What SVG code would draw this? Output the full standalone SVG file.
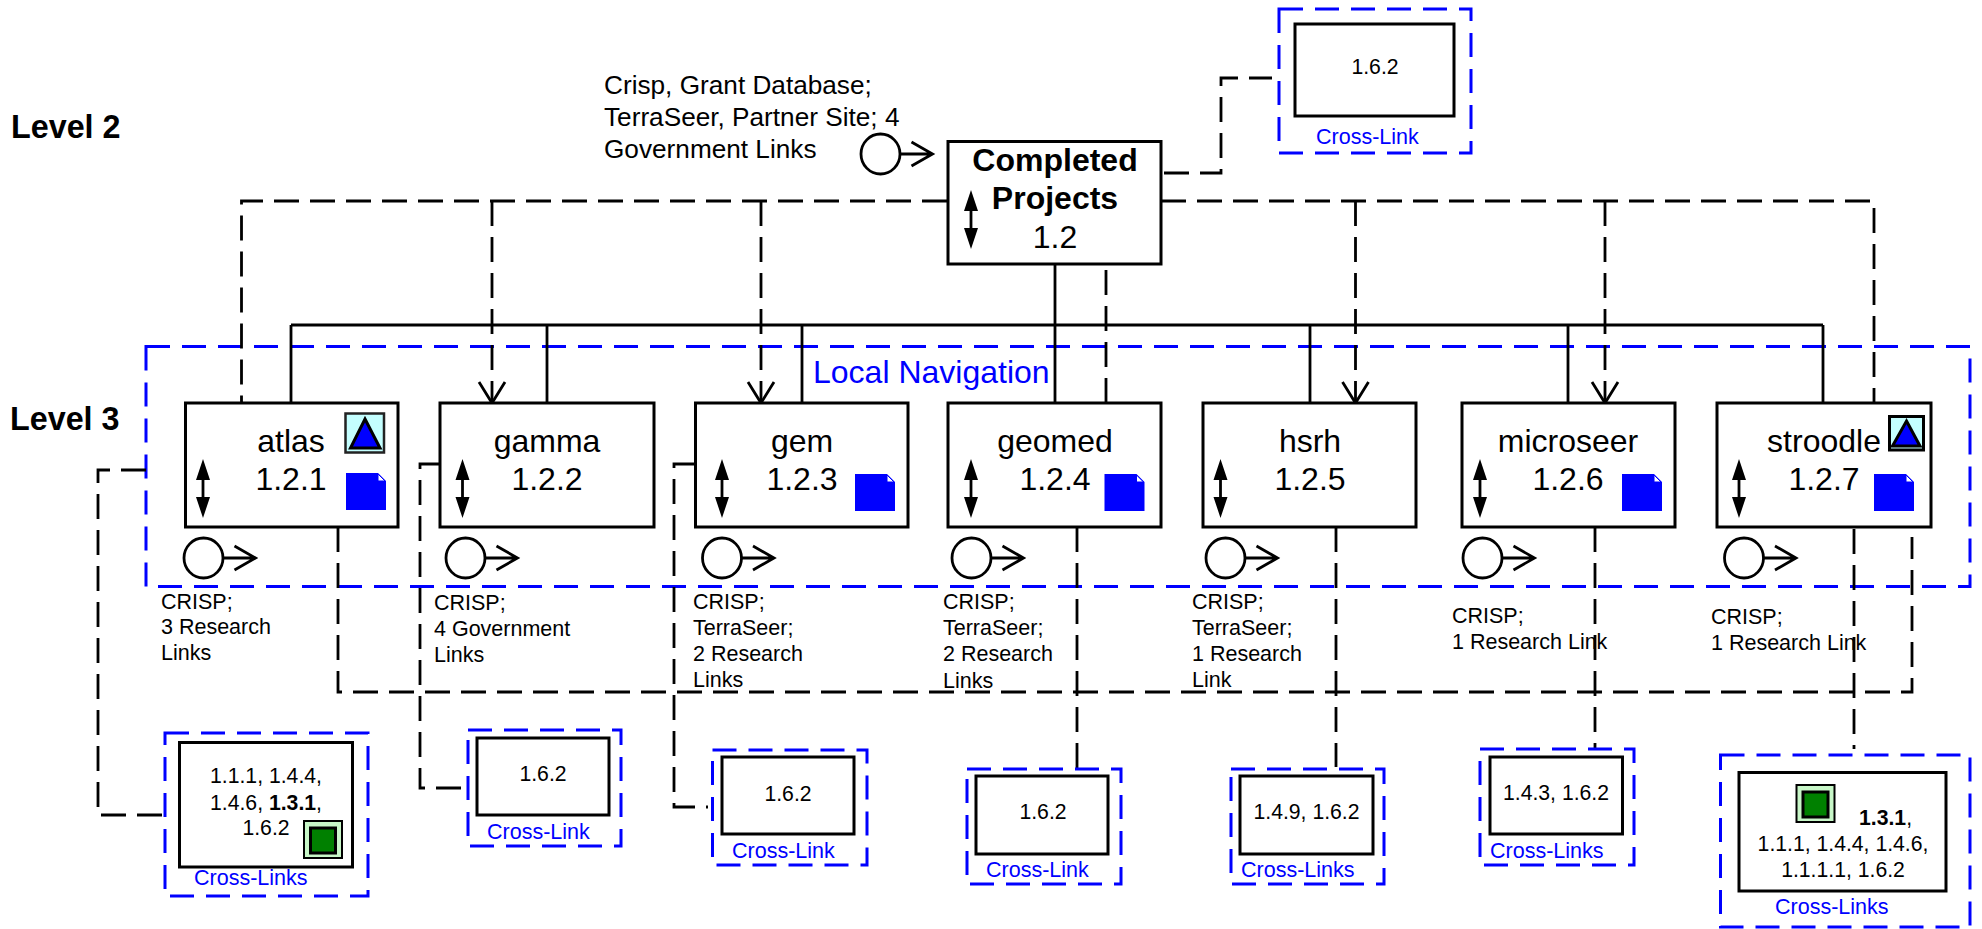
<svg xmlns="http://www.w3.org/2000/svg" xmlns:xlink="http://www.w3.org/1999/xlink" width="1982" height="929" viewBox="0 0 1982 929">
<style>
text{font-family:"Liberation Sans",Arial,sans-serif;fill:#000}
.box{fill:#fff;stroke:#000;stroke-width:3}
.blue{fill:none;stroke:#00f;stroke-width:3;stroke-dasharray:24 12}
.dash{fill:none;stroke:#000;stroke-width:2.8;stroke-dasharray:25 11}
.solid{fill:none;stroke:#000;stroke-width:2.8}
.arrowdash{marker-end:url(#open)}
.name{font-size:32px;text-anchor:middle}
.b{font-weight:bold}
.lvl{font-size:32.3px;font-weight:bold}
.note{font-size:21.5px}
.top{font-size:26.2px}
.cl{font-size:21.5px;fill:#00f}
.ref{font-size:21.2px;text-anchor:middle}
.line{fill:none;stroke:#000;stroke-width:2.8}
</style>
<defs>
<marker id="open" markerUnits="userSpaceOnUse" markerWidth="32" markerHeight="28" refX="15" refY="22" orient="0" overflow="visible">
<path d="M2 1L15 22L28 1" fill="none" stroke="#000" stroke-width="2.8"/>
</marker>
<g id="updown">
<path d="M0 0L7 21H-7Z M0 59L7 38H-7Z" fill="#000"/>
<path d="M0 10V50" class="line"/>
</g>
<g id="go">
<ellipse cx="0" cy="0" rx="19.5" ry="20" fill="#fff" stroke="#000" stroke-width="2.8"/>
<path d="M19.5 0H52M31 -12L52 0L31 12" class="line"/>
</g>
<g id="doc">
<path d="M0 0H32L40 8V37H0Z" fill="#00f"/>
<path d="M32 1L39 8H32Z" fill="#fff" stroke="#00f" stroke-width="1"/>
</g>
<g id="green">
<rect x="0" y="0" width="38" height="37" fill="#c8f7c8" stroke="#000" stroke-width="2"/>
<rect x="6.5" y="7" width="25" height="25" fill="#008000" stroke="#000" stroke-width="3"/>
</g>
</defs>

<g id="labels">
<text class="lvl" x="11" y="138">Level 2</text>
<text class="lvl" x="10" y="430">Level 3</text>
<text class="top" x="604" y="94">Crisp, Grant Database;</text>
<text class="top" x="604" y="126">TerraSeer, Partner Site; 4</text>
<text class="top" x="604" y="158">Government Links</text>
</g>

<g id="local-navigation">
<rect class="blue" x="146" y="346.5" width="1824" height="240"/>
<text x="813" y="383" font-size="32" style="fill:#00f">Local Navigation</text>
</g>

<g id="connectors">
<path class="solid" d="M1055 264V402M291 325H1823M291 325V402M547 325V402M802 325V402M1310 325V402M1568 325V402M1823 325V402"/>
<path class="dash" d="M947 201H241.500V402"/>
<path class="dash" d="M1161 201H1874V402"/>
<path class="dash arrowdash" d="M492 201V403"/>
<path class="dash arrowdash" d="M761 201V403"/>
<path class="dash arrowdash" d="M1355.500 201V403"/>
<path class="dash arrowdash" d="M1605 201V403"/>
<path class="dash" d="M1106 270V402"/>
<path class="dash" d="M1164 173H1221V78H1272"/>
<path class="dash" d="M146 470H98V815H162"/>
<path class="dash" d="M440 464H420V788H462"/>
<path class="dash" d="M695 464H674V807H708"/>
<path class="dash" d="M338 527V692H1912V537"/>
<path class="dash" d="M1077 527V769"/>
<path class="dash" d="M1336 527V767"/>
<path class="dash" d="M1595 527V749"/>
<path class="dash" d="M1854 529V749"/>
</g>

<g id="node-1-2">
<rect class="box" x="948" y="141.500" width="213" height="122.500"/>
<text class="name b" x="1055" y="171">Completed</text>
<text class="name b" x="1055" y="209">Projects</text>
<text class="name" x="1055" y="248">1.2</text>
<use xlink:href="#updown" x="971" y="190"/>
<use xlink:href="#go" x="880.500" y="154"/>
</g>

<g id="node-1-2-1">
<rect class="box" x="185.500" y="403" width="212.500" height="124"/>
<text class="name" x="291" y="452">atlas</text>
<text class="name" x="291" y="490">1.2.1</text>
<use xlink:href="#updown" x="203" y="459"/>
<rect x="345.500" y="413.500" width="38.500" height="39" fill="#c4ffff" stroke="#222" stroke-width="2.500"/>
<path d="M365 419L380 448H350.500Z" fill="#00f" stroke="#000" stroke-width="3"/>
<use xlink:href="#doc" x="346" y="473"/>
<use xlink:href="#go" x="203.500" y="558"/>
<text class="note" x="161" y="609">CRISP;</text>
<text class="note" x="161" y="634">3 Research</text>
<text class="note" x="161" y="660">Links</text>
</g>

<g id="node-1-2-2">
<rect class="box" x="440" y="403" width="214" height="124"/>
<text class="name" x="547" y="452">gamma</text>
<text class="name" x="547" y="490">1.2.2</text>
<use xlink:href="#updown" x="462.500" y="459"/>
<use xlink:href="#go" x="465.500" y="558"/>
<text class="note" x="434" y="610">CRISP;</text>
<text class="note" x="434" y="636">4 Government</text>
<text class="note" x="434" y="662">Links</text>
</g>

<g id="node-1-2-3">
<rect class="box" x="695.500" y="403" width="212.500" height="124"/>
<text class="name" x="802" y="452">gem</text>
<text class="name" x="802" y="490">1.2.3</text>
<use xlink:href="#updown" x="722" y="459"/>
<use xlink:href="#doc" x="855" y="474"/>
<use xlink:href="#go" x="722" y="558"/>
<text class="note" x="693" y="609">CRISP;</text>
<text class="note" x="693" y="635">TerraSeer;</text>
<text class="note" x="693" y="661">2 Research</text>
<text class="note" x="693" y="687">Links</text>
</g>

<g id="node-1-2-4">
<rect class="box" x="948" y="403" width="213" height="124"/>
<text class="name" x="1055" y="452">geomed</text>
<text class="name" x="1055" y="490">1.2.4</text>
<use xlink:href="#updown" x="971" y="459"/>
<use xlink:href="#doc" x="1104.500" y="474"/>
<use xlink:href="#go" x="971.500" y="558"/>
<text class="note" x="943" y="609">CRISP;</text>
<text class="note" x="943" y="635">TerraSeer;</text>
<text class="note" x="943" y="661">2 Research</text>
<text class="note" x="943" y="688">Links</text>
</g>

<g id="node-1-2-5">
<rect class="box" x="1203" y="403" width="213" height="124"/>
<text class="name" x="1310" y="452">hsrh</text>
<text class="name" x="1310" y="490">1.2.5</text>
<use xlink:href="#updown" x="1220.500" y="459"/>
<use xlink:href="#go" x="1225.500" y="558"/>
<text class="note" x="1192" y="609">CRISP;</text>
<text class="note" x="1192" y="635">TerraSeer;</text>
<text class="note" x="1192" y="661">1 Research</text>
<text class="note" x="1192" y="687">Link</text>
</g>

<g id="node-1-2-6">
<rect class="box" x="1462" y="403" width="213" height="124"/>
<text class="name" x="1568" y="452">microseer</text>
<text class="name" x="1568" y="490">1.2.6</text>
<use xlink:href="#updown" x="1480" y="459"/>
<use xlink:href="#doc" x="1622" y="474"/>
<use xlink:href="#go" x="1482.500" y="558"/>
<text class="note" x="1452" y="623">CRISP;</text>
<text class="note" x="1452" y="649">1 Research Link</text>
</g>

<g id="node-1-2-7">
<rect class="box" x="1717" y="403" width="214" height="124"/>
<text class="name" x="1824" y="452">stroodle</text>
<text class="name" x="1824" y="490">1.2.7</text>
<use xlink:href="#updown" x="1739" y="459"/>
<rect x="1889.500" y="416.500" width="34" height="33.500" fill="#c4ffff" stroke="#000" stroke-width="3"/>
<path d="M1906.500 421L1920 446H1892.500Z" fill="#00f" stroke="#000" stroke-width="3"/>
<use xlink:href="#doc" x="1874" y="474"/>
<use xlink:href="#go" x="1744" y="558"/>
<text class="note" x="1711" y="624">CRISP;</text>
<text class="note" x="1711" y="650">1 Research Link</text>
</g>

<g id="xlink-top">
<rect class="blue" x="1279" y="9" width="192" height="144"/>
<rect class="box" x="1295" y="24" width="159" height="92"/>
<text class="ref" x="1375" y="74">1.6.2</text>
<text class="cl" x="1316" y="144">Cross-Link</text>
</g>

<g id="xlink-atlas">
<rect class="blue" x="165" y="733" width="203" height="163"/>
<rect class="box" x="179.500" y="742.500" width="173" height="124.500"/>
<text class="ref" x="266" y="783">1.1.1, 1.4.4,</text>
<text class="ref" x="266" y="810">1.4.6, <tspan font-weight="bold">1.3.1</tspan>,</text>
<text class="ref" x="266" y="835">1.6.2</text>
<use xlink:href="#green" x="304" y="821"/>
<text class="cl" x="194" y="885">Cross-Links</text>
</g>

<g id="xlink-gamma">
<rect class="blue" x="468" y="730" width="153" height="116"/>
<rect class="box" x="477" y="738" width="132" height="77"/>
<text class="ref" x="543" y="781">1.6.2</text>
<text class="cl" x="487" y="839">Cross-Link</text>
</g>

<g id="xlink-gem">
<rect class="blue" x="712.500" y="750" width="154.500" height="115"/>
<rect class="box" x="722" y="757" width="132" height="77"/>
<text class="ref" x="788" y="801">1.6.2</text>
<text class="cl" x="732" y="858">Cross-Link</text>
</g>

<g id="xlink-geomed">
<rect class="blue" x="967" y="769" width="154" height="115"/>
<rect class="box" x="976" y="776" width="132" height="78"/>
<text class="ref" x="1043" y="819">1.6.2</text>
<text class="cl" x="986" y="877">Cross-Link</text>
</g>

<g id="xlink-hsrh">
<rect class="blue" x="1231" y="769" width="153" height="115"/>
<rect class="box" x="1240" y="776" width="133" height="78"/>
<text class="ref" x="1306.500" y="819">1.4.9, 1.6.2</text>
<text class="cl" x="1241" y="877">Cross-Links</text>
</g>

<g id="xlink-microseer">
<rect class="blue" x="1480" y="749" width="154" height="116"/>
<rect class="box" x="1490" y="757" width="132.500" height="77"/>
<text class="ref" x="1556" y="800">1.4.3, 1.6.2</text>
<text class="cl" x="1490" y="858">Cross-Links</text>
</g>

<g id="xlink-stroodle">
<rect class="blue" x="1720.500" y="755" width="249.500" height="172"/>
<rect class="box" x="1739" y="772.500" width="207" height="118.500"/>
<use xlink:href="#green" x="1796.500" y="785"/>
<text class="ref" x="1859" y="825" style="text-anchor:start"><tspan font-weight="bold">1.3.1</tspan>,</text>
<text class="ref" x="1843" y="851">1.1.1, 1.4.4, 1.4.6,</text>
<text class="ref" x="1843" y="877">1.1.1.1, 1.6.2</text>
<text class="cl" x="1775" y="914">Cross-Links</text>
</g>
</svg>
